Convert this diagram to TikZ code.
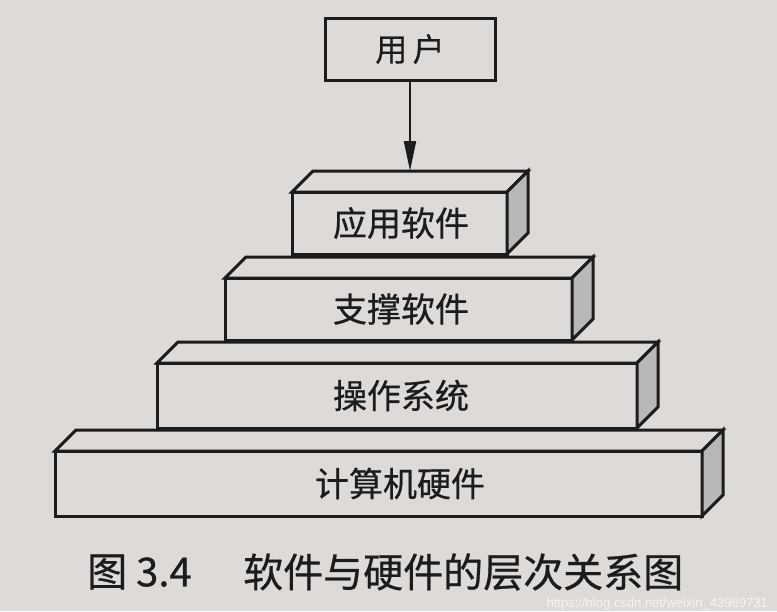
\documentclass[tikz,border=0pt]{standalone}
\usepackage{fontspec}
\newfontfamily\cjk[FakeBold=0.6]{Noto Sans CJK SC}
\newfontfamily\urlfont{Liberation Sans}
\usetikzlibrary{arrows.meta,calc}
\definecolor{paper}{RGB}{222,218,216}
\definecolor{ink}{RGB}{28,28,28}
\definecolor{sideshade}{RGB}{186,183,183}
\definecolor{wmark}{RGB}{245,245,245}
\tikzset{
  edge/.style={draw=ink, line width=3pt, line join=miter},
  front/.style={edge, fill=paper, inner sep=0pt, outer sep=0pt, shape=rectangle},
  label/.style={font=\cjk\fontsize{34}{40}\selectfont, text=ink, inner sep=0pt},
  caption/.style={font=\cjk\fontsize{40}{46}\selectfont, text=ink, inner sep=0pt, anchor=west}
}
\newcommand\drawslab[1]{%
  \draw[edge, fill=paper] (#1.north west) -- ++(21,-21) -- ($(#1.north east)+(21,-21)$) -- (#1.north east) -- cycle;
  \draw[edge, fill=sideshade] (#1.north east) -- ++(21,-21) -- ($(#1.south east)+(21,-21)$) -- (#1.south east) -- cycle;
}
\begin{document}
\begin{tikzpicture}[x=1pt,y=-1pt]
  \fill[paper] (0,0) rectangle (777,611);
  \useasboundingbox (0,0) rectangle (777,611);

  % layers (front faces)
  \node[front, minimum width=647pt, minimum height=65pt] (hw)  at (378.5,483.5) {};
  \drawslab{hw}
  \node[front, minimum width=480pt, minimum height=65pt] (os)  at (397,395.5) {};
  \drawslab{os}
  \node[front, minimum width=347pt, minimum height=62pt] (sup) at (398.5,309) {};
  \drawslab{sup}
  \node[front, minimum width=215pt, minimum height=62pt] (app) at (399.5,223) {};
  \drawslab{app}

  \node[label] (hwt)  at (400,483.5) {计算机硬件};
  \node[label] (ost)  at (401,395.5) {操作系统};
  \node[label] (supt) at (401,309)   {支撑软件};
  \node[label] (appt) at (401,223)   {应用软件};

  % user box
  \node[front, minimum width=170pt, minimum height=62pt] (user) at (410,49) {};
  \node[label, font=\cjk\fontsize{32}{38}\selectfont] (usert) at (410,49) {用\,户};

  \coordinate (apptop) at ($(app.north west)+(21,-21)$);
  \draw[draw=ink, line width=2pt, -{Triangle[length=30pt,width=12pt]}] (user.south) -- (user.south |- apptop);

  % caption
  \node[caption] (capnum) at (87,572) {图 3.4};
  \node[caption] (captext) at (243,572) {软件与硬件的层次关系图};
  \node[font=\urlfont\fontsize{13}{15}\selectfont, text=wmark, anchor=east, inner sep=0pt] (wm) at (768,604) {https://blog.csdn.net/weixin\_43989731};
\end{tikzpicture}
\end{document}
